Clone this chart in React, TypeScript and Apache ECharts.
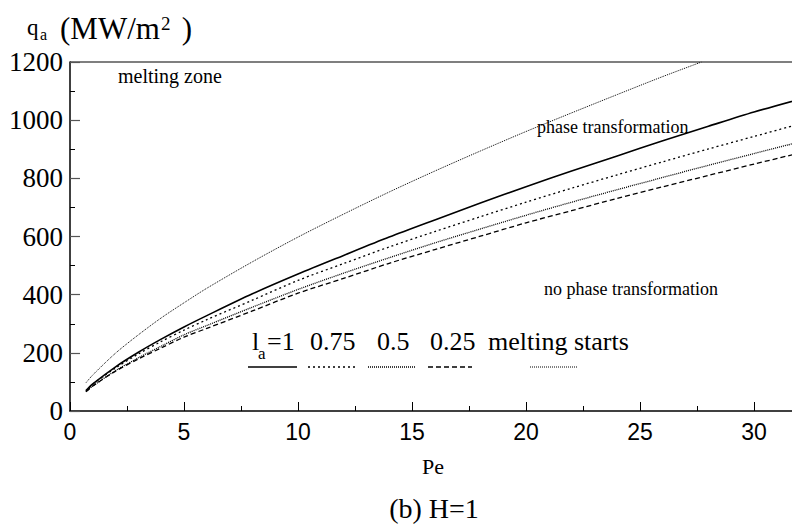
import React, { useEffect, useRef } from "react";
import * as echarts from "echarts";

const peValues = [0.7, 1, 2, 3, 4, 5, 6, 8, 10, 12, 14, 16, 18, 20, 22, 24, 26, 28, 30, 32];
const la100 = [70, 93, 152, 202, 247, 289, 328, 403, 471, 535, 598, 657, 715, 771, 825, 877, 929, 979, 1028, 1072];
const la075 = [68, 92, 148, 196, 239, 278, 314, 381, 449, 507, 564, 617, 668, 718, 766, 812, 857, 901, 944, 987];
const la050 = [67, 86, 139, 183, 223, 262, 294, 357, 418, 474, 527, 578, 626, 673, 718, 761, 803, 845, 885, 925];
const la025 = [66, 86, 137, 179, 217, 254, 284, 344, 405, 456, 508, 555, 601, 647, 689, 731, 771, 810, 849, 887];
const meltPe = [0.7, 1, 2, 3, 4, 5, 6, 8, 10, 12, 14, 16, 18, 20, 22, 24, 26, 27.7];
const meltQ = [97, 124, 199, 262, 320, 372, 422, 513, 598, 677, 753, 825, 894, 961, 1025, 1088, 1150, 1200];

const yTicks = [0, 200, 400, 600, 800, 1000, 1200];
const xTicks = [0, 5, 10, 15, 20, 25, 30];

const SERIF = "Liberation Serif";
const SANS = "Liberation Sans";

const zip = (xs: number[], ys: number[]) => xs.map((x, i) => [x, ys[i]]);

export default function App() {
  const ref = useRef<HTMLDivElement>(null);
  useEffect(() => {
    if (!ref.current) return;
    const chart = echarts.init(ref.current, undefined, { renderer: "svg" });
    const txt = (x: number, y: number, text: string, size: number, align = "left", family = SERIF) => ({
      type: "text",
      x,
      y,
      silent: true,
      style: { text, fontSize: size, fontFamily: family, fill: "#000", align, verticalAlign: "middle" },
    });
    const seg = (x1: number, x2: number, y: number, dash: any, w: number) => ({
      type: "line",
      silent: true,
      shape: { x1, y1: y, x2, y2: y },
      style: { stroke: "#000", lineWidth: w, lineDash: dash },
    });
    const mkLine = (name: string, data: number[][], dash: any, w: number) => ({
      name,
      type: "line",
      data,
      smooth: 0.3,
      showSymbol: false,
      clip: true,
      lineStyle: { color: "#000", width: w, type: dash },
    });
    chart.setOption({
      animation: false,
      backgroundColor: "#fff",
      grid: { left: 70, top: 62, right: -76, bottom: 113, outerBoundsMode: "none", containLabel: false },
      xAxis: {
        type: "value",
        min: 0,
        max: 35,
        interval: 5,
        axisLine: { show: true, lineStyle: { color: "#000", width: 1.5 } },
        axisTick: { show: true, inside: true, length: 9, lineStyle: { color: "#000", width: 1 } },
        minorTick: { show: true, splitNumber: 2, length: 5, lineStyle: { color: "#000", width: 1 } },
        splitLine: { show: false },
        axisLabel: {
          color: "#000",
          fontSize: 23,
          fontFamily: SANS,
          margin: 9,
          formatter: (v: number) => (xTicks.indexOf(v) >= 0 ? String(v) : ""),
        },
      },
      yAxis: {
        type: "value",
        min: 0,
        max: 1200,
        interval: 200,
        axisLine: { show: true, lineStyle: { color: "#000", width: 1.5 } },
        axisTick: { show: true, inside: true, length: 10, lineStyle: { color: "#555", width: 1.2 } },
        minorTick: { show: true, splitNumber: 2, length: 5, lineStyle: { color: "#000", width: 1 } },
        splitLine: { show: false },
        axisLabel: {
          color: "#000",
          fontSize: 27,
          fontFamily: SERIF,
          margin: 7,
          formatter: (v: number) => (yTicks.indexOf(v) >= 0 ? String(v) : ""),
        },
      },
      series: [
        mkLine("la=1", zip(peValues, la100), "solid", 1.6),
        mkLine("0.75", zip(peValues, la075), [2, 3], 1.3),
        mkLine("0.5", zip(peValues, la050), [1, 1], 1.3),
        mkLine("0.25", zip(peValues, la025), [5, 3], 1.3),
        mkLine("melting starts", zip(meltPe, meltQ), [1, 1], 1),
      ],
      graphic: [
        { type: "line", silent: true, shape: { x1: 70, y1: 62, x2: 792, y2: 62 }, style: { stroke: "#555", lineWidth: 1.5 } },
        txt(27, 27, "q", 23),
        txt(40, 34, "a", 16),
        txt(60, 28, "(MW/m", 31),
        txt(161, 23, "2", 19),
        txt(174, 28, " )", 31),
        txt(118, 76, "melting zone", 20),
        txt(537, 127, "phase transformation", 18),
        txt(544, 289, "no phase transformation", 18),
        txt(252, 341, "l", 26),
        txt(258, 353, "a", 17),
        txt(267, 341, "=1", 26),
        txt(310, 341, "0.75", 26),
        txt(377, 341, "0.5", 26),
        txt(430, 341, "0.25", 26),
        txt(488, 341, "melting starts", 26),
        seg(248, 297, 367, null, 1.6),
        seg(308, 355, 367, [2, 3], 1.3),
        seg(368, 415, 367, [1, 1], 1.3),
        seg(428, 472, 367, [5, 3], 1.3),
        seg(530, 578, 367, [1, 1], 1),
        txt(433, 466, "Pe", 22, "center"),
        txt(434, 508, "(b) H=1", 28, "center"),
      ],
    });
    return () => chart.dispose();
  }, []);
  return (
    <div
      ref={ref}
      style={{ position: "absolute", left: 0, top: 0, width: 792, height: 524, background: "#fff" }}
    />
  );
}
